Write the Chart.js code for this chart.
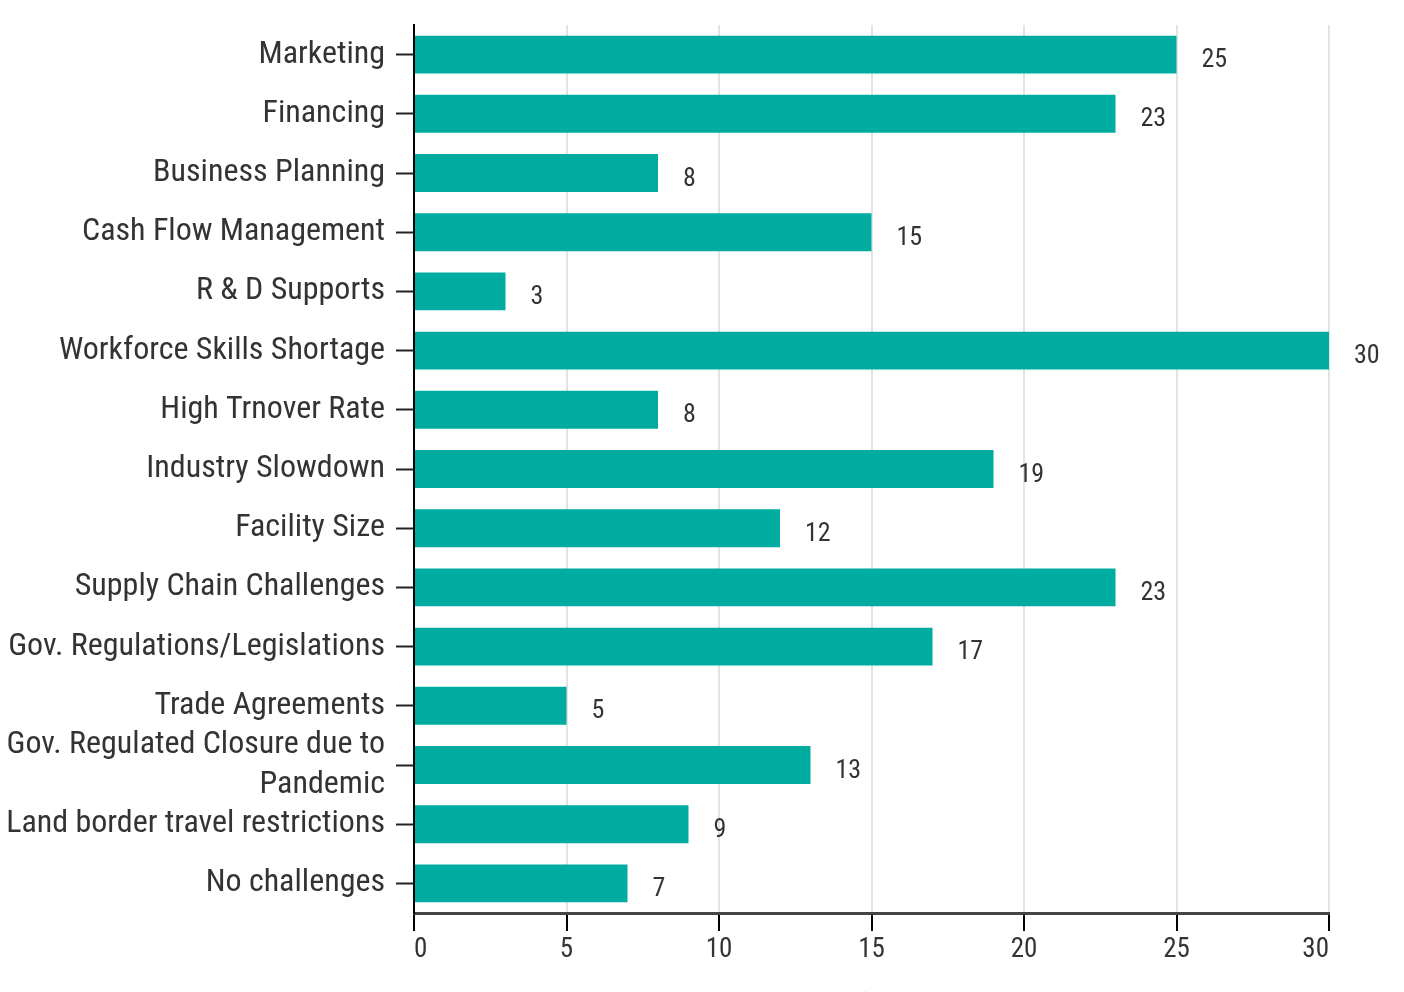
<!DOCTYPE html>
<html>
<head>
<meta charset="utf-8">
<script src="https://cdn.jsdelivr.net/npm/chart.js@4"></script>
<style>
  html, body { margin: 0; padding: 0; background: #fff; overflow: hidden; }
  #clip { width: 1404px; height: 992px; overflow: hidden; }
  #wrap { width: 1404px; height: 1030px; position: relative; }
</style>
</head>
<body>
<div id="clip"><div id="wrap"><canvas id="chart"></canvas></div></div>
<script>
// Challenges reported, bar values
const categories = [
  "Marketing",
  "Financing",
  "Business Planning",
  "Cash Flow Management",
  "R & D Supports",
  "Workforce Skills Shortage",
  "High Trnover Rate",
  "Industry Slowdown",
  "Facility Size",
  "Supply Chain Challenges",
  "Gov. Regulations/Legislations",
  "Trade Agreements",
  ["Gov. Regulated Closure due to", "Pandemic"],
  "Land border travel restrictions",
  "No challenges",
];
const counts = [25, 23, 8, 15, 3, 30, 8, 19, 12, 23, 17, 5, 13, 9, 7];
const xTicks = [0, 5, 10, 15, 20, 25, 30];
const xTitle = "Number of challenges";

const FONT = "'Roboto Condensed', 'Liberation Sans Narrow', 'DejaVu Sans Condensed', Roboto, sans-serif";
const BAR = "#00ac9f";
const TEXT = "#333333";

// draws the value to the right of each bar
const valueLabels = {
  id: "valueLabels",
  afterDatasetsDraw(chart) {
    const { ctx } = chart;
    const meta = chart.getDatasetMeta(0);
    ctx.save();
    ctx.font = "26px " + FONT;
    ctx.fillStyle = TEXT;
    ctx.textAlign = "left";
    ctx.textBaseline = "middle";
    meta.data.forEach((bar, i) => {
      ctx.fillText(String(counts[i]), bar.x + 25, bar.y + 6);
    });
    ctx.restore();
  },
};

new Chart(document.getElementById("chart"), {
  type: "bar",
  data: {
    labels: categories,
    datasets: [{
      data: counts,
      backgroundColor: BAR,
      borderWidth: 0,
      barPercentage: 0.8,
      categoryPercentage: 0.8,
    }],
  },
  options: {
    indexAxis: "y",
    animation: false,
    responsive: true,
    maintainAspectRatio: false,
    layout: { padding: { top: 25, right: 75, left: 4, bottom: 0 } },
    scales: {
      x: {
        type: "linear",
        min: 0,
        max: 30,
        afterBuildTicks: (scale) => { scale.ticks = xTicks.map((v) => ({ value: v })); },
        afterFit: (scale) => { scale.height = 1030 - 913; },
        grid: {
          color: "#e3e3e3",
          lineWidth: 2,
          tickColor: "#000",
          tickLength: 18,
          tickWidth: 2,
        },
        border: { display: true, color: "#444", width: 3 },
        ticks: {
          color: TEXT,
          font: { family: FONT, size: 27 },
          padding: 3,
          align: "inner",
        },
        title: {
          display: true,
          text: xTitle,
          color: "#888",
          font: { family: FONT, size: 28 },
          padding: { top: 0, bottom: 7 },
        },
      },
      y: {
        afterFit: (scale) => {
          scale.width = 414 - 4;
          scale.paddingTop = 0;
          scale.paddingBottom = 0;
        },
        grid: {
          offset: false,
          drawOnChartArea: false,
          tickColor: "#222",
          tickLength: 18,
          tickWidth: 2,
        },
        border: { display: true, color: "#000", width: 2 },
        ticks: {
          autoSkip: false,
          color: TEXT,
          font: { family: FONT, size: 32, lineHeight: 1.25 },
          padding: 11,
        },
      },
    },
    plugins: {
      legend: { display: false },
      tooltip: { enabled: false },
    },
  },
  plugins: [valueLabels],
});
</script>
</body>
</html>
